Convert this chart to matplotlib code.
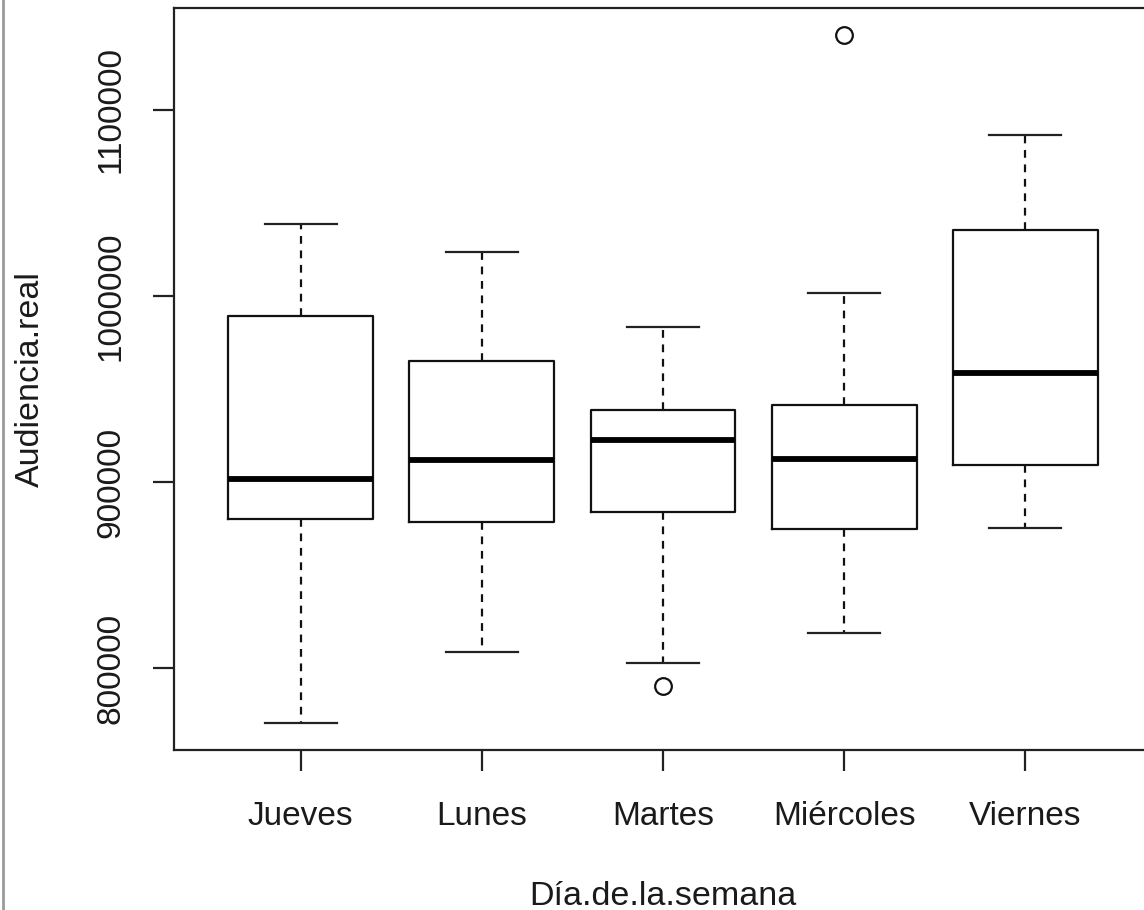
import matplotlib
matplotlib.use("Agg")
import matplotlib.pyplot as plt
from matplotlib.lines import Line2D

plt.rcParams['font.family'] = ['Liberation Sans', 'DejaVu Sans']

# Data
categories = ["Jueves", "Lunes", "Martes", "Miércoles", "Viernes"]
whisker_low = [770800, 808800, 803000, 819100, 875500]
q1 = [880100, 878800, 883800, 874900, 909200]
medians = [901900, 911800, 922700, 912600, 958800]
q3 = [989500, 965000, 938800, 941600, 1035600]
whisker_high = [1038600, 1023500, 983600, 1001700, 1086600]
outliers = [[], [], [790650], [1140000], []]

y_ticks = [800000, 900000, 1000000, 1100000]
x_label = "Día.de.la.semana"
y_label = "Audiencia.real"

W, H = 1144, 910
fig = plt.figure(figsize=(W / 100, H / 100), dpi=100)
ax = fig.add_axes([174 / W, (H - 750) / H, (1152 - 174) / W, 742 / H])

stats = []
for i, c in enumerate(categories):
    stats.append(dict(label=c, whislo=whisker_low[i], q1=q1[i], med=medians[i],
                      q3=q3[i], whishi=whisker_high[i], fliers=outliers[i]))

lw = 1.6
ax.bxp(stats, positions=range(1, len(categories) + 1), widths=0.8,
       showfliers=True, patch_artist=False,
       boxprops=dict(color='#111111', linewidth=lw),
       medianprops=dict(color='black', linewidth=4.2, solid_capstyle='butt'),
       whiskerprops=dict(color='#111111', linewidth=lw, linestyle=(0, (3.5, 3))),
       capprops=dict(color='#222222', linewidth=lw),
       capwidths=0.4,
       flierprops=dict(marker='o', markersize=12, markerfacecolor='none',
                       markeredgecolor='#111111', markeredgewidth=1.6))

allvals = whisker_low + whisker_high + [v for o in outliers for v in o]
lo, hi = min(allvals), max(allvals)
r = hi - lo
ax.set_ylim(lo - 0.04 * r, hi + 0.04 * r)
ax.set_xlim(0.3, len(categories) + 0.7)

ax.set_yticks(y_ticks)
ax.set_yticklabels([str(t) for t in y_ticks], rotation=90, va='center')
ax.set_xticks(range(1, len(categories) + 1))
ax.set_xticklabels(categories)

ax.tick_params(axis='both', direction='out', length=15, width=lw,
               labelsize=24, colors='#222222', labelcolor='#1a1a1a')
ax.tick_params(axis='x', pad=22)
ax.tick_params(axis='y', pad=19)
for s in ax.spines.values():
    s.set_linewidth(lw)
    s.set_color('#222222')

ax.set_xlabel(x_label, fontsize=24.5, labelpad=35, color='#1a1a1a')
ax.set_ylabel(y_label, fontsize=24.5, labelpad=36, color='#1a1a1a')

# thin gray frame line at the very left edge of the image
fig.add_artist(Line2D([3 / W, 3 / W], [0, 1], transform=fig.transFigure,
                      color='#9a9a9a', linewidth=2))

fig.savefig("out.png", dpi=100)
